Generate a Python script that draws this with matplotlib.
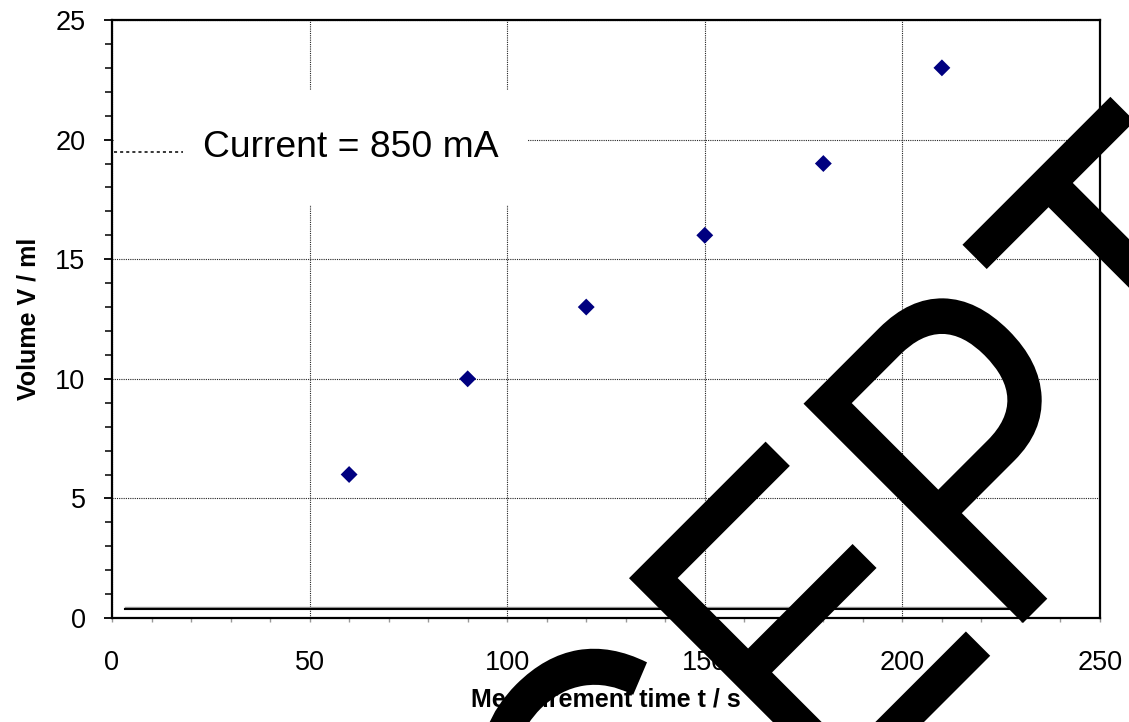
import matplotlib
matplotlib.use("Agg")
import matplotlib.pyplot as plt
from matplotlib.patches import Rectangle, PathPatch
from matplotlib.textpath import TextPath
from matplotlib.font_manager import FontProperties
from matplotlib.transforms import Affine2D
from matplotlib.ticker import MultipleLocator

plt.rcParams['font.family'] = ['Liberation Sans', 'DejaVu Sans']

# measured data
time_s = [60, 90, 120, 150, 180, 210]
volume_ml = [6, 10, 13, 16, 19, 23]

# baseline drawn near the bottom of the plot
base_x = [3.4, 227]
base_y = [0.38, 0.38]

legend_label = "Current = 850 mA"
stamp_text = "CEPT"

fig = plt.figure(figsize=(11.29, 7.22), dpi=100)
ax = fig.add_axes([0.0992, 0.1440, 0.8751, 0.8283])

ax.scatter(time_s, volume_ml, marker='D', s=8.6 ** 2, color='#000080',
           edgecolors='none', zorder=3)
ax.plot(base_x, [v + 0.07 for v in base_y], color='#999999', lw=1.0, zorder=2.2)
ax.plot(base_x, base_y, color='black', lw=1.5, zorder=2.2)

ax.set_xlim(0, 250)
ax.set_ylim(0, 25)
ax.xaxis.set_major_locator(MultipleLocator(50))
ax.xaxis.set_minor_locator(MultipleLocator(10))
ax.yaxis.set_major_locator(MultipleLocator(5))
ax.yaxis.set_minor_locator(MultipleLocator(1))

ax.grid(True, which='major', color='#222222', lw=0.8, linestyle=(0, (1, 1)))

ax.tick_params(axis='y', which='major', direction='out', length=6, width=1.3,
               labelsize=19.5, pad=13)
ax.tick_params(axis='y', which='minor', direction='out', length=5, width=1.1)
ax.tick_params(axis='x', which='both', direction='out', length=3, width=1,
               color='#999999', labelsize=19.5, pad=20)

for sp in ax.spines.values():
    sp.set_linewidth(1.6)

ax.set_xlabel("Measurement time t / s", fontsize=18, fontweight='bold', labelpad=8)
ax.set_ylabel("Volume V / ml", fontsize=18, fontweight='bold', labelpad=11)

# legend area (white box, dotted key, label)
ax.add_patch(Rectangle((0.002, 0.69), 0.418, 0.193, transform=ax.transAxes,
                       facecolor='white', edgecolor='none', zorder=2))
ax.plot([0.002, 0.072], [0.779, 0.779], transform=ax.transAxes, color='black',
        lw=1.1, linestyle=(0, (2, 2)), zorder=2.1)
ax.text(0.092, 0.786, legend_label, transform=ax.transAxes, fontsize=26.8,
        va='center', ha='left', zorder=2.1)

# big stamp lettering across the figure (tall letters, rotated 45 deg)
stamp_path = TextPath((0, 0), stamp_text, size=100,
                      prop=FontProperties(family='Liberation Sans'))
stamp_tr = Affine2D().scale(3.70, 4.51).rotate_deg(45).translate(638, -286)
fig.add_artist(PathPatch(stamp_path, transform=stamp_tr, facecolor='black',
                         edgecolor='none', zorder=10))

fig.savefig("out.png", dpi=100)
